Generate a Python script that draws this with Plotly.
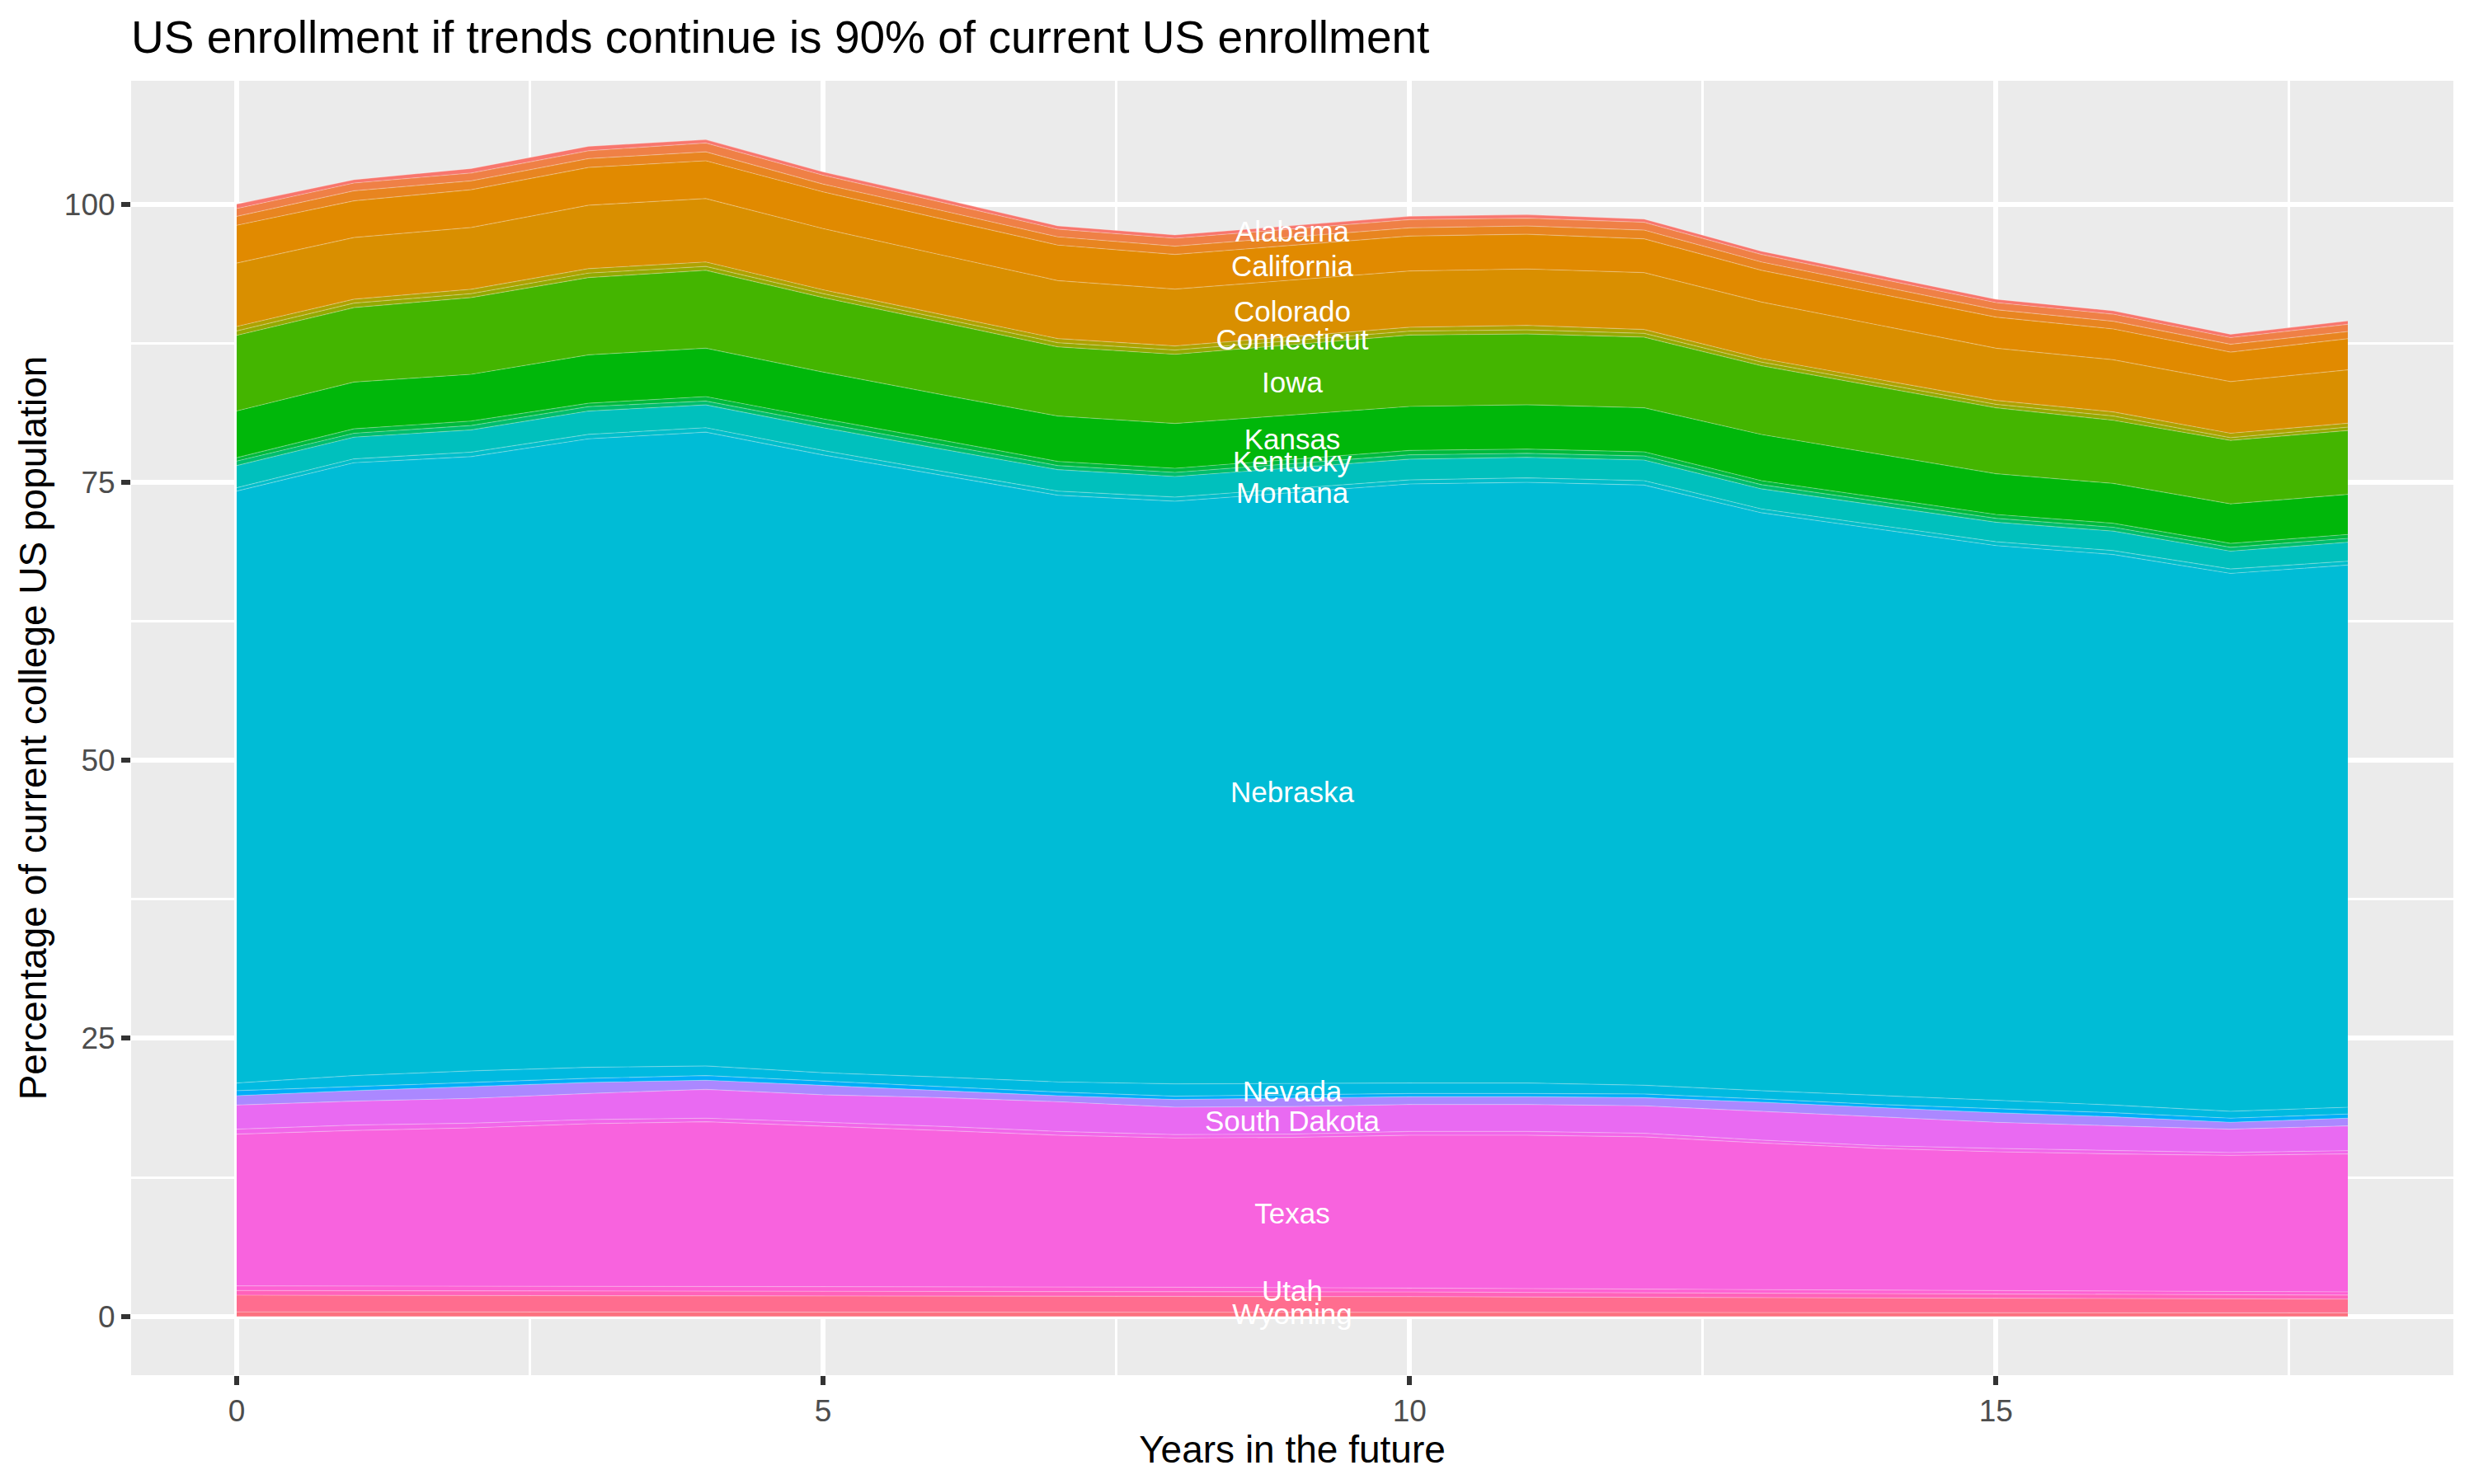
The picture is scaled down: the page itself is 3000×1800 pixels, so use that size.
import math
import plotly.graph_objects as go

# ---------------- data ----------------
years = list(range(19))

alabama      = [0.40, 0.30, 0.40, 0.40, 0.30, 0.30, 0.30, 0.30, 0.30, 0.30, 0.30, 0.32, 0.29, 0.29, 0.30, 0.30, 0.30, 0.30, 0.30]
arizona      = [0.70, 0.70, 0.70, 0.70, 0.80, 0.80, 0.75, 0.69, 0.71, 0.70, 0.74, 0.70, 0.70, 0.68, 0.65, 0.64, 0.64, 0.60, 0.65]
arkansas     = [0.80, 0.90, 0.80, 0.80, 0.80, 0.70, 0.75, 0.74, 0.75, 0.75, 0.74, 0.74, 0.79, 0.75, 0.70, 0.67, 0.69, 0.70, 0.65]
california   = [3.40, 3.30, 3.40, 3.40, 3.40, 3.30, 3.25, 3.19, 3.11, 3.12, 3.14, 3.13, 3.04, 2.85, 2.85, 2.79, 2.77, 2.65, 2.80]
colorado     = [5.70, 5.55, 5.55, 5.70, 5.70, 5.50, 5.35, 5.22, 5.11, 5.09, 5.06, 5.07, 5.11, 5.07, 4.85, 4.70, 4.69, 4.65, 4.80]
connecticut  = [0.40, 0.35, 0.40, 0.40, 0.40, 0.35, 0.35, 0.37, 0.37, 0.36, 0.35, 0.40, 0.35, 0.33, 0.35, 0.35, 0.37, 0.40, 0.35]
idaho        = [0.40, 0.40, 0.35, 0.40, 0.35, 0.35, 0.35, 0.37, 0.38, 0.36, 0.35, 0.37, 0.34, 0.33, 0.30, 0.31, 0.38, 0.24, 0.30]
iowa         = [6.80, 6.70, 6.90, 6.95, 7.00, 6.70, 6.50, 6.22, 6.22, 6.32, 6.42, 6.37, 6.35, 6.18, 6.10, 5.93, 5.68, 5.71, 5.75]
kansas       = [4.20, 4.20, 4.20, 4.35, 4.35, 4.20, 4.10, 4.08, 4.03, 4.00, 3.95, 3.98, 3.96, 4.15, 3.90, 3.66, 3.58, 3.55, 3.60]
kentucky     = [0.30, 0.40, 0.40, 0.30, 0.40, 0.40, 0.40, 0.37, 0.37, 0.38, 0.40, 0.38, 0.37, 0.36, 0.35, 0.35, 0.36, 0.35, 0.35]
maryland     = [0.40, 0.35, 0.40, 0.40, 0.35, 0.40, 0.40, 0.37, 0.37, 0.38, 0.39, 0.36, 0.37, 0.38, 0.35, 0.35, 0.35, 0.35, 0.35]
missouri     = [2.00, 1.95, 2.00, 2.10, 2.05, 2.05, 2.00, 1.93, 1.85, 1.86, 1.86, 1.85, 1.85, 1.80, 1.80, 1.75, 1.75, 1.60, 1.70]
montana      = [0.30, 0.35, 0.40, 0.40, 0.40, 0.40, 0.35, 0.37, 0.37, 0.36, 0.37, 0.40, 0.40, 0.35, 0.35, 0.35, 0.35, 0.40, 0.35]
nebraska     = [53.22, 55.10, 55.23, 56.51, 56.99, 55.55, 54.13, 52.75, 52.39, 53.11, 53.86, 54.01, 53.96, 51.96, 50.88, 49.88, 49.50, 48.36, 48.75]
nevada       = [0.69, 0.99, 1.04, 0.99, 0.86, 0.75, 0.86, 0.91, 1.10, 1.04, 0.94, 0.94, 0.79, 0.74, 0.82, 0.74, 0.69, 0.62, 0.61]
new_mexico   = [0.45, 0.37, 0.37, 0.37, 0.42, 0.37, 0.37, 0.33, 0.30, 0.30, 0.29, 0.29, 0.32, 0.30, 0.29, 0.37, 0.37, 0.37, 0.37]
oregon       = [0.84, 0.94, 1.06, 0.99, 0.82, 0.86, 0.62, 0.54, 0.69, 0.76, 0.70, 0.70, 0.74, 0.81, 0.82, 0.86, 0.81, 0.62, 0.69]
south_dakota = [2.17, 2.15, 2.23, 2.35, 2.59, 2.47, 2.59, 2.67, 2.47, 2.47, 2.42, 2.42, 2.47, 2.60, 2.59, 2.35, 2.23, 2.10, 2.23]
tennessee    = [0.45, 0.49, 0.42, 0.37, 0.32, 0.32, 0.37, 0.34, 0.30, 0.30, 0.34, 0.34, 0.32, 0.25, 0.25, 0.30, 0.29, 0.25, 0.29]
texas        = [13.64, 13.98, 14.23, 14.61, 14.80, 14.45, 14.05, 13.65, 13.42, 13.51, 13.74, 13.79, 13.69, 13.19, 12.75, 12.50, 12.36, 12.26, 12.41]
utah         = [0.42, 0.42, 0.42, 0.41, 0.41, 0.40, 0.39, 0.39, 0.38, 0.37, 0.36, 0.35, 0.34, 0.33, 0.33, 0.32, 0.30, 0.29, 0.29]
virginia     = [0.42, 0.42, 0.42, 0.42, 0.42, 0.42, 0.42, 0.42, 0.43, 0.42, 0.42, 0.41, 0.40, 0.39, 0.38, 0.37, 0.37, 0.37, 0.36]
wisconsin    = [1.50, 1.49, 1.48, 1.48, 1.47, 1.46, 1.46, 1.44, 1.43, 1.41, 1.40, 1.38, 1.36, 1.34, 1.31, 1.28, 1.26, 1.24, 1.24]
wyoming      = [0.40, 0.40, 0.40, 0.40, 0.40, 0.40, 0.39, 0.39, 0.38, 0.38, 0.37, 0.36, 0.35, 0.34, 0.33, 0.33, 0.32, 0.32, 0.31]

# states in factor order (first = top of the stack)
states = ["Alabama", "Arizona", "Arkansas", "California", "Colorado", "Connecticut",
          "Idaho", "Iowa", "Kansas", "Kentucky", "Maryland", "Missouri", "Montana",
          "Nebraska", "Nevada", "New Mexico", "Oregon", "South Dakota", "Tennessee",
          "Texas", "Utah", "Virginia", "Wisconsin", "Wyoming"]
series = [alabama, arizona, arkansas, california, colorado, connecticut,
          idaho, iowa, kansas, kentucky, maryland, missouri, montana,
          nebraska, nevada, new_mexico, oregon, south_dakota, tennessee,
          texas, utah, virginia, wisconsin, wyoming]

# direct labels (x position and y of label centre)
label_states = ["Alabama", "California", "Colorado", "Connecticut", "Iowa", "Kansas",
                "Kentucky", "Montana", "Nebraska", "Nevada", "South Dakota", "Texas",
                "Utah", "Wyoming"]
label_y = [97.3, 94.2, 90.1, 87.6, 83.7, 78.6, 76.6, 73.75, 46.9, 19.95,
           17.27, 9.0, 2.05, -0.03]
label_x = [9] * len(label_states)

x_ticks = [0, 5, 10, 15]
y_ticks = [0, 25, 50, 75, 100]

# ---------------- styles ----------------
hues = {"Alabama": 15, "Arizona": 28, "Arkansas": 36, "California": 43, "Colorado": 50,
        "Connecticut": 80, "Idaho": 95, "Iowa": 121, "Kansas": 128, "Kentucky": 136,
        "Maryland": 152, "Missouri": 191, "Montana": 199, "Nebraska": 206,
        "Nevada": 213, "New Mexico": 234, "Oregon": 274, "South Dakota": 304,
        "Tennessee": 311, "Texas": 318.5, "Utah": 326, "Virginia": 340,
        "Wisconsin": 1, "Wyoming": 8}


def hcl_hex(h, c=100.0, l=65.0):
    hr = math.radians(h)
    u, v = c * math.cos(hr), c * math.sin(hr)
    Xn, Yn, Zn = 95.047, 100.0, 108.883
    Y = Yn * ((l + 16) / 116) ** 3
    den = Xn + 15 * Yn + 3 * Zn
    un, vn = 4 * Xn / den, 9 * Yn / den
    up, vp = u / (13 * l) + un, v / (13 * l) + vn
    X = 9.0 * Y * up / (4 * vp)
    Z = Y * (12 - 3 * up - 20 * vp) / (4 * vp)
    X, Y, Z = X / 100, Y / 100, Z / 100
    rgb = [3.240479 * X - 1.537150 * Y - 0.498535 * Z,
           -0.969256 * X + 1.875992 * Y + 0.041556 * Z,
           0.055648 * X - 0.204043 * Y + 1.057311 * Z]
    out = []
    for ch in rgb:
        ch = 1.055 * ch ** (1 / 2.4) - 0.055 if ch > 0.0031308 else 12.92 * ch
        out.append(int(round(min(max(ch, 0), 1) * 255)))
    return "#%02X%02X%02X" % tuple(out)


FONT = "Liberation Sans, Arial, Helvetica, sans-serif"

# the page body adds an 8 px offset; size the figure so the window shows the same frame
W, H = 2984, 1784

fig = go.Figure()
# plotly stacks the first trace at the bottom -> add from the last state
for name, vals in zip(reversed(states), reversed(series)):
    col = hcl_hex(hues[name])
    fig.add_trace(go.Scatter(
        x=years, y=vals, name=name, stackgroup="one", mode="lines",
        line=dict(width=1.2, color="rgba(255,255,255,0.28)"),
        fillcolor=col, showlegend=False, hoverinfo="name+y"))

fig.add_trace(go.Scatter(
    x=label_x, y=label_y, text=label_states, mode="text",
    textposition="middle center",
    textfont=dict(family=FONT, size=35, color="white"),
    showlegend=False, hoverinfo="skip", cliponaxis=False))

fig.update_layout(
    width=W, height=H,
    margin=dict(l=151, r=17, t=90, b=124),
    paper_bgcolor="white", plot_bgcolor="#EBEBEB",
    font=dict(family=FONT, color="black"),
    title=dict(text="US enrollment if trends continue is 90% of current US enrollment",
               font=dict(family=FONT, size=55, color="black"),
               x=0, xref="paper", xanchor="left",
               y=1 - 37 / H, yref="container", yanchor="middle"),
    showlegend=False,
)

fig.update_xaxes(
    range=[-0.9, 18.9], tickvals=x_ticks, ticktext=[str(t) for t in x_ticks],
    showgrid=True, gridcolor="white", gridwidth=5.5, zeroline=False, showline=False,
    ticks="outside", ticklen=11, tickwidth=5.5, tickcolor="#333333",
    tickfont=dict(family=FONT, size=37, color="#4D4D4D"),
    minor=dict(tickvals=[2.5, 7.5, 12.5, 17.5], showgrid=True, gridcolor="white",
               gridwidth=2.8, ticks=""),
    title=dict(text="Years in the future", font=dict(family=FONT, size=46, color="black"),
               standoff=0),
    automargin=False, layer="below traces",
)
fig.update_yaxes(
    range=[-5.29, 111.09], tickvals=y_ticks, ticktext=[str(t) for t in y_ticks],
    showgrid=True, gridcolor="white", gridwidth=5.5, zeroline=False, showline=False,
    ticks="outside", ticklen=11, tickwidth=5.5, tickcolor="#333333",
    tickfont=dict(family=FONT, size=37, color="#4D4D4D"),
    minor=dict(tickvals=[12.5, 37.5, 62.5, 87.5], showgrid=True, gridcolor="white",
               gridwidth=2.8, ticks=""),
    title=dict(text="Percentage of current college US population",
               font=dict(family=FONT, size=46, color="black"), standoff=6),
    automargin=False, layer="below traces",
)

fig.write_html("out.html")
